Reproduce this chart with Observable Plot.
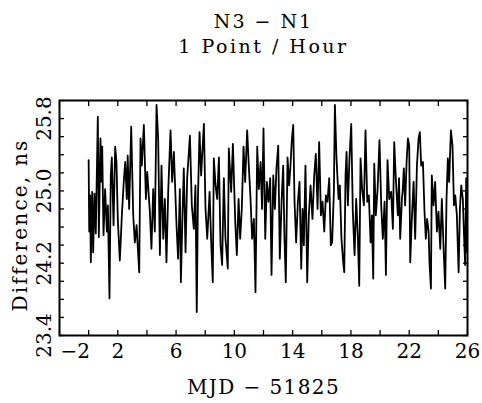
<!DOCTYPE html>
<html><head><meta charset="utf-8">
<script src="https://cdn.jsdelivr.net/npm/d3@7"></script>
<script src="https://cdn.jsdelivr.net/npm/@observablehq/plot@0.6"></script>
<style>body{margin:0;background:#fff;}</style>
</head><body><div id="chart"></div>
<script>
const titleLine1 = "N3 − N1";
const titleLine2 = "1 Point / Hour";
const xLabel = "MJD − 51825";
const yLabel = "Difference, ns";
const xTickLabels = [-2, 2, 6, 10, 14, 18, 22, 26];
const xTicks = [-2, 0, 2, 4, 6, 8, 10, 12, 14, 16, 18, 20, 22, 24, 26];
const yTickLabels = [23.4, 24.2, 25.0, 25.8];
const yTicks = [23.4, 23.6, 23.8, 24.0, 24.2, 24.4, 24.6, 24.8, 25.0, 25.2, 25.4, 25.6, 25.8, 26.0];

const mjd = [
0.00,0.04,0.10,0.15,0.24,0.31,0.40,0.49,0.63,0.70,0.81,0.88,0.93,1.02,1.13,1.25,1.32,1.43,1.52,1.59,1.71,1.82,1.91,2.00,2.14,2.28,2.41,2.51,2.62,
2.68,2.78,2.92,3.06,3.17,3.29,3.47,3.56,3.65,3.79,3.93,4.02,4.20,4.31,4.43,4.54,4.66,4.77,4.89,5.00,5.12,5.23,5.34,5.46,5.62,5.73,5.85,6.03,6.14,6.26,6.33,6.44,6.53,6.65,6.76,6.95,7.08,7.22,7.33,
7.42,7.50,7.61,7.72,7.91,8.02,8.14,8.30,8.41,8.52,8.59,8.71,8.82,8.94,9.05,9.16,9.28,9.39,9.55,9.62,9.78,9.90,10.06,10.17,10.29,10.40,10.51,10.63,10.74,10.88,10.99,11.11,11.22,11.34,11.45,11.57,11.68,11.80,11.90,
12.00,12.12,12.23,12.34,12.46,12.55,12.67,12.78,12.89,13.01,13.12,13.24,13.35,13.44,13.53,13.65,13.76,13.85,13.95,14.04,14.13,14.24,14.36,14.47,14.59,14.68,14.77,14.88,15.00,15.11,15.23,15.36,15.48,15.59,15.71,15.82,15.94,16.05,16.17,16.28,16.39,16.51,16.62,
16.71,16.83,16.90,17.01,17.15,17.24,17.35,17.47,17.54,17.63,17.70,17.79,17.90,18.02,18.13,18.25,18.36,18.48,18.57,18.66,18.77,18.89,19.00,19.12,19.23,19.35,19.44,19.53,19.60,19.71,19.83,19.96,20.08,20.19,20.31,20.40,20.51,20.63,20.76,20.88,20.97,21.08,21.22,
21.30,21.38,21.50,21.56,21.63,21.72,21.82,21.91,22.00,22.07,22.18,22.30,22.41,22.53,22.64,22.73,22.82,22.94,23.05,23.14,23.23,23.33,23.39,23.49,23.55,23.67,23.78,23.90,24.01,24.13,24.24,24.36,24.47,24.56,24.65,24.74,24.86,24.97,25.07,25.16,25.27,25.39,25.48,25.57,25.68,25.77,25.84,25.91,25.98
];
const diff = [
25.34,24.55,24.95,24.21,24.99,24.32,24.97,24.53,25.82,24.49,25.58,25.10,25.49,24.51,25.02,24.55,24.84,23.81,25.17,25.37,24.62,25.49,25.32,24.69,24.23,24.73,25.10,25.32,24.91,
25.39,24.80,25.71,24.73,24.43,24.62,24.10,25.58,25.28,25.73,24.91,25.21,24.77,24.36,25.02,24.55,25.95,25.58,24.29,25.28,24.47,24.91,24.21,24.99,25.67,25.10,25.43,24.62,24.25,25.02,23.99,24.73,25.25,24.32,25.14,25.61,24.84,24.58,25.06,
23.66,24.91,25.65,25.17,25.74,24.80,24.47,24.99,24.43,23.99,25.36,25.06,24.91,25.37,24.40,24.18,25.14,24.47,24.14,25.47,24.99,25.52,24.66,24.29,24.91,24.47,24.80,25.49,25.10,25.67,25.28,24.91,24.47,24.69,23.88,25.49,25.02,25.32,24.80,
25.69,24.47,25.10,24.88,25.14,24.07,25.17,24.80,25.25,25.50,24.25,24.88,25.28,24.47,23.99,25.37,25.06,25.28,25.58,25.73,24.88,24.43,24.88,25.10,24.14,24.80,24.40,25.28,23.99,24.73,25.06,24.69,25.17,25.41,24.80,25.54,24.73,24.88,24.55,24.95,24.88,25.14,24.40,
24.43,24.99,25.95,25.36,24.91,25.06,24.47,24.21,24.10,25.17,25.43,24.84,25.36,25.74,24.77,24.29,24.91,24.47,23.95,25.36,25.02,24.84,25.67,24.88,24.95,24.43,24.73,24.03,25.30,24.73,25.02,25.56,24.84,24.47,24.88,24.07,25.34,24.91,24.99,24.58,25.54,25.14,24.73,
25.14,24.47,24.91,25.02,25.25,24.84,25.32,25.58,25.50,24.21,24.69,25.10,24.47,25.28,25.58,25.65,25.28,25.32,24.77,24.47,24.69,24.55,24.21,23.92,25.17,24.84,25.10,24.55,24.77,24.36,24.91,24.36,23.92,24.91,25.36,25.10,25.67,25.50,24.84,24.95,24.73,24.10,24.80,25.06,24.91,24.47,24.18,25.14,24.32
];

const points = mjd.map((x, i) => ({x, y: diff[i]}));
const font = "'DejaVu Serif', 'Liberation Serif', serif";
const fmtX = d => d < 0 ? "−" + Math.abs(d) : String(d);
const blank = () => "";

const chart = Plot.plot({
  width: 482,
  height: 403,
  marginLeft: 59,
  marginRight: 15,
  marginTop: 100,
  marginBottom: 68,
  style: {fontFamily: font, fontSize: "20px", background: "white", color: "black", overflow: "visible"},
  x: {domain: [-2, 26], label: null},
  y: {domain: [23.4, 26.0], label: null},
  marks: [
    Plot.line(points, {x: "x", y: "y", stroke: "black", strokeWidth: 1.8}),
    Plot.frame({stroke: "black", strokeWidth: 2}),
    Plot.axisX({anchor: "bottom", ticks: xTicks, tickSize: -5, tickFormat: blank, label: null, strokeWidth: 1.3}),
    Plot.axisX({anchor: "top", ticks: xTicks, tickSize: -5, tickFormat: blank, label: null, strokeWidth: 1.3}),
    Plot.axisY({anchor: "left", ticks: yTicks, tickSize: -5, tickFormat: blank, label: null, strokeWidth: 1.3}),
    Plot.axisY({anchor: "right", ticks: yTicks, tickSize: -5, tickFormat: blank, label: null, strokeWidth: 1.3}),
    Plot.axisX({anchor: "bottom", ticks: xTickLabels.slice(0, 1), tickSize: 0, tickPadding: 8, tickFormat: fmtX, textAnchor: "start", dx: 1, label: null, fontSize: 20}),
    Plot.axisX({anchor: "bottom", ticks: xTickLabels.slice(1), tickSize: 0, tickPadding: 8, tickFormat: fmtX, label: null, fontSize: 20}),
    Plot.axisY({anchor: "left", ticks: yTickLabels, tickSize: 0, tickPadding: 9, tickRotate: -90, tickFormat: d => d.toFixed(1), label: null, fontSize: 20}),
    Plot.text([titleLine1], {frameAnchor: "top", dy: -73, lineAnchor: "bottom", fontSize: 19, fontFamily: font}),
    Plot.text([titleLine2], {frameAnchor: "top", dy: -48, lineAnchor: "bottom", fontSize: 19, fontFamily: font}),
    Plot.text([xLabel], {frameAnchor: "bottom", dy: 58, lineAnchor: "bottom", fontSize: 20, fontFamily: font}),
    Plot.text([yLabel], {frameAnchor: "left", dx: -39, dy: 7, rotate: -90, textAnchor: "middle", lineAnchor: "middle", fontSize: 20, fontFamily: font})
  ]
});
const spacing = new Map([[titleLine1, "2px"], [titleLine2, "2.5px"], [xLabel, "1.4px"], [yLabel, "2.2px"]]);
chart.querySelectorAll("text").forEach(t => {
  const s = spacing.get(t.textContent);
  if (s) t.style.letterSpacing = s;
});
document.getElementById("chart").appendChild(chart);
</script>
</body></html>
